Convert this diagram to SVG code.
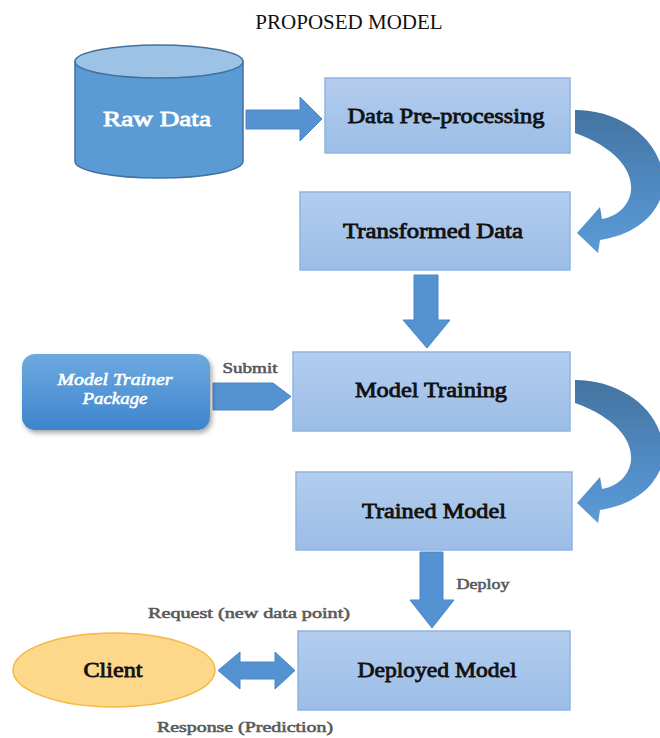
<svg xmlns="http://www.w3.org/2000/svg" width="660" height="738" viewBox="0 0 660 738">
<defs>
<linearGradient id="boxGrad" x1="0" y1="0" x2="0" y2="1"><stop offset="0" stop-color="#b4cdee"/><stop offset="1" stop-color="#9bbde6"/></linearGradient>
<linearGradient id="pkgGrad" x1="0" y1="0" x2="0" y2="1"><stop offset="0" stop-color="#6ea9e0"/><stop offset="1" stop-color="#3d85cc"/></linearGradient>
<linearGradient id="curveGrad" x1="0" y1="0" x2="0" y2="1"><stop offset="0" stop-color="#44739f"/><stop offset="0.5" stop-color="#4f88c0"/><stop offset="1" stop-color="#5b9bd8"/></linearGradient>
<filter id="shadow" x="-10%" y="-10%" width="125%" height="130%"><feDropShadow dx="2" dy="3" stdDeviation="2.5" flood-color="#000" flood-opacity="0.35"/></filter>
<style>
.box{fill:url(#boxGrad);stroke:#8fb5e2;stroke-width:1.5}
.lbl{font-family:"Liberation Serif","Times New Roman",serif;font-weight:normal;font-size:21px;fill:#111;stroke:#111;stroke-width:0.8;text-anchor:middle}
.sm{font-family:"Liberation Serif","Times New Roman",serif;font-weight:normal;font-size:15px;fill:#5a5a5a;stroke:#5a5a5a;stroke-width:0.6;text-anchor:middle}
.wt{fill:#fff;stroke:#fff}
.it{font-family:"Liberation Serif","Times New Roman",serif;font-style:italic;font-size:17px;fill:#fff;stroke:#fff;stroke-width:0.6;text-anchor:middle}
.arr{fill:#5592d2;stroke:#4a86c4;stroke-width:1}
.curve{fill:url(#curveGrad)}
</style>
</defs>
<rect width="660" height="738" fill="#fff"/>
<text x="349" y="29" font-family="Liberation Serif, Times New Roman, serif" font-size="21" fill="#111" text-anchor="middle">PROPOSED MODEL</text>

<g id="connectors">
<path class="arr" d="M246 110 H300 V97 L322 119 L300 141 V129 H246 Z"/>
<path class="curve" d="M575 110 C625 110 668 145 663 190 C658 215 635 235 600 240 L598 253 L577 233 L600 207 L602 219 C640 212 650 160 575 133 Z"/>
<path class="arr" d="M414 275 H438 V320 H450 L427 348 L403 320 H414 Z"/>
<path class="arr" d="M213 383 H273 L291 396.5 L273 410 H213 Z"/>
<path class="curve" transform="translate(0,270)" d="M575 110 C625 110 668 145 663 190 C658 215 635 235 600 240 L598 253 L577 233 L600 207 L602 219 C640 212 650 160 575 133 Z"/>
<path class="arr" d="M420 552 H443 V600 H454 L432 628 L410 600 H420 Z"/>
<path class="arr" d="M218 670.5 L240 652 V662 H275 V652 L295 670.5 L275 689 V679 H240 V689 Z"/>
<text class="sm" x="250" y="373" textLength="55" lengthAdjust="spacingAndGlyphs">Submit</text>
<text class="sm" x="483" y="589" textLength="53" lengthAdjust="spacingAndGlyphs">Deploy</text>
<text class="sm" x="249" y="618" textLength="202" lengthAdjust="spacingAndGlyphs">Request (new data point)</text>
<text class="sm" x="245" y="732" textLength="176" lengthAdjust="spacingAndGlyphs">Response (Prediction)</text>
</g>

<g id="raw-data">
<path d="M75 61.5 V161.5 A84 16.5 0 0 0 243 161.5 V61.5 Z" fill="#5b9bd5" stroke="#41719c" stroke-width="1.5"/>
<ellipse cx="159" cy="61.5" rx="84" ry="16.5" fill="#9cc2e6" stroke="#41719c" stroke-width="1.5"/>
<text x="157" y="126" class="lbl wt" textLength="108" lengthAdjust="spacingAndGlyphs">Raw Data</text>
</g>

<g id="data-preprocessing">
<rect class="box" x="325" y="78" width="245" height="75"/>
<text class="lbl" x="446" y="123" textLength="197" lengthAdjust="spacingAndGlyphs">Data Pre-processing</text>
</g>

<g id="transformed-data">
<rect class="box" x="300" y="192" width="270" height="78"/>
<text class="lbl" x="433" y="238" textLength="180" lengthAdjust="spacingAndGlyphs">Transformed Data</text>
</g>

<g id="model-trainer-package">
<rect x="22" y="354" width="188" height="76" rx="13" fill="url(#pkgGrad)" filter="url(#shadow)"/>
<text class="it" x="115" y="385" textLength="115" lengthAdjust="spacingAndGlyphs">Model Trainer</text>
<text class="it" x="115" y="404" textLength="65" lengthAdjust="spacingAndGlyphs">Package</text>
</g>

<g id="model-training">
<rect class="box" x="293" y="352" width="277" height="79"/>
<text class="lbl" x="431" y="397" textLength="152" lengthAdjust="spacingAndGlyphs">Model Training</text>
</g>

<g id="trained-model">
<rect class="box" x="296" y="472" width="276" height="78"/>
<text class="lbl" x="434" y="518" textLength="144" lengthAdjust="spacingAndGlyphs">Trained Model</text>
</g>

<g id="deployed-model">
<rect class="box" x="298" y="631" width="272" height="79"/>
<text class="lbl" x="437" y="677" textLength="159" lengthAdjust="spacingAndGlyphs">Deployed Model</text>
</g>

<g id="client">
<ellipse cx="114" cy="670" rx="101" ry="37" fill="#fdd78a" stroke="#f4b942" stroke-width="1.5"/>
<text class="lbl" x="113" y="677" textLength="59" lengthAdjust="spacingAndGlyphs">Client</text>
</g>
</svg>
